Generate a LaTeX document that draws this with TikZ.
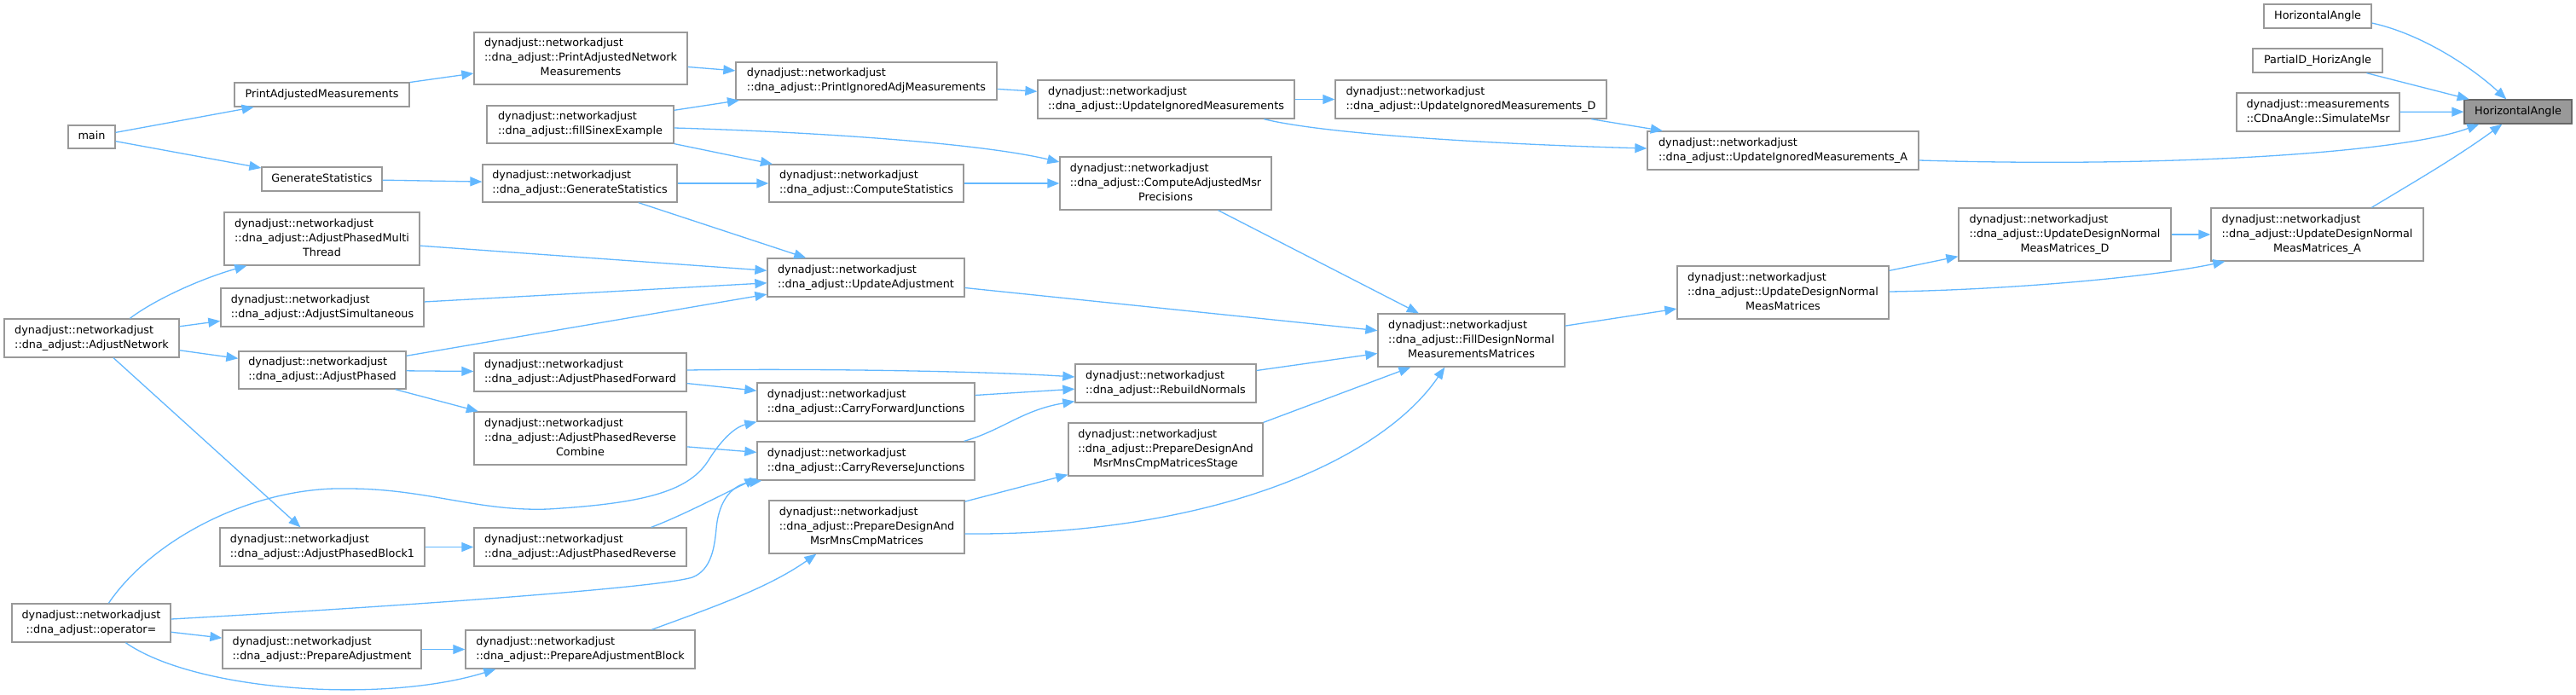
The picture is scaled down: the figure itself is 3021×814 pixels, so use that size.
\documentclass[tikz,border=0pt]{standalone}
\usepackage{fontspec}
\newfontfamily\dvs{DejaVu Sans}
\usetikzlibrary{arrows.meta,calc}
\definecolor{edgeblue}{HTML}{63B8FF}
\definecolor{boxgray}{HTML}{999999}
\definecolor{bordergray}{HTML}{666666}
\newcommand\lone[1]{\begin{tabular}{@{}c@{}}#1\end{tabular}}
\newcommand\ltwo[2]{\begin{tabular}{@{}l@{}}#1\\\multicolumn{1}{@{}c@{}}{#2}\end{tabular}}
\newcommand\lthree[3]{\begin{tabular}{@{}l@{}}#1\\#2\\\multicolumn{1}{@{}c@{}}{#3}\end{tabular}}
\newcommand\dnaN{dynadjust::networkadjust}
\newcommand\nd[6]{\node[fn,minimum width={(#4-#2)*1pt},minimum height={(#5-#3)*1pt}] (#1) at ({(#2+#4)/2},{-(#3+#5)/2}) {#6};}
\tikzset{
  fn/.style={draw=boxgray, line width=1.3pt, fill=white, inner sep=0pt, font=\dvs\fontsize{12.8}{17}\selectfont},
  conn/.style={draw=edgeblue, line width=1.3pt, -{Triangle[length=14pt,width=11pt]}},
}
\begin{document}
\begin{tikzpicture}[x=1pt,y=1pt]
\useasboundingbox (0,0) rectangle (3021,-814);
\fill[white] (0,0) rectangle (3021,-814);
% nodes
\nd{n_main}{80}{147}{135}{174}{\lone{main}}
\nd{n_pam}{275}{97}{480}{125}{\lone{PrintAdjustedMeasurements}}
\nd{n_panm}{556}{38}{806}{99}{\lthree{\dnaN}{::dna\_adjust::PrintAdjustedNetwork}{Measurements}}
\nd{n_sinex}{571}{124}{790}{168}{\ltwo{\dnaN}{::dna\_adjust::fillSinexExample}}
\nd{n_gs}{307}{196}{448}{224}{\lone{GenerateStatistics}}
\nd{n_dgs}{566}{193}{794}{237}{\ltwo{\dnaN}{::dna\_adjust::GenerateStatistics}}
\nd{n_apmt}{263}{249}{492}{311}{\lthree{\dnaN}{::dna\_adjust::AdjustPhasedMulti}{Thread}}
\nd{n_asim}{259}{338}{497}{383}{\ltwo{\dnaN}{::dna\_adjust::AdjustSimultaneous}}
\nd{n_anet}{5}{374}{210}{419}{\ltwo{\dnaN}{::dna\_adjust::AdjustNetwork}}
\nd{n_ap}{280}{412}{476}{456}{\ltwo{\dnaN}{::dna\_adjust::AdjustPhased}}
\nd{n_apf}{556}{414}{805}{459}{\ltwo{\dnaN}{::dna\_adjust::AdjustPhasedForward}}
\nd{n_aprc}{556}{483}{805}{545}{\lthree{\dnaN}{::dna\_adjust::AdjustPhasedReverse}{Combine}}
\nd{n_apb1}{258}{619}{498}{664}{\ltwo{\dnaN}{::dna\_adjust::AdjustPhasedBlock1}}
\nd{n_apr}{556}{619}{805}{664}{\ltwo{\dnaN}{::dna\_adjust::AdjustPhasedReverse}}
\nd{n_op}{14}{708}{200}{753}{\ltwo{\dnaN}{::dna\_adjust::operator=}}
\nd{n_pa}{261}{739}{494}{784}{\ltwo{\dnaN}{::dna\_adjust::PrepareAdjustment}}
\nd{n_pab}{546}{739}{815}{784}{\ltwo{\dnaN}{::dna\_adjust::PrepareAdjustmentBlock}}
\nd{n_piam}{863}{73}{1169}{117}{\ltwo{\dnaN}{::dna\_adjust::PrintIgnoredAdjMeasurements}}
\nd{n_uim}{1217}{94}{1518}{139}{\ltwo{\dnaN}{::dna\_adjust::UpdateIgnoredMeasurements}}
\nd{n_uimd}{1566}{94}{1884}{139}{\ltwo{\dnaN}{::dna\_adjust::UpdateIgnoredMeasurements\_D}}
\nd{n_cs}{902}{193}{1130}{237}{\ltwo{\dnaN}{::dna\_adjust::ComputeStatistics}}
\nd{n_camp}{1243}{184}{1491}{246}{\lthree{\dnaN}{::dna\_adjust::ComputeAdjustedMsr}{Precisions}}
\nd{n_ua}{900}{303}{1131}{348}{\ltwo{\dnaN}{::dna\_adjust::UpdateAdjustment}}
\nd{n_fdn}{1616}{368}{1835}{430}{\lthree{\dnaN}{::dna\_adjust::FillDesignNormal}{MeasurementsMatrices}}
\nd{n_rn}{1261}{427}{1473}{472}{\ltwo{\dnaN}{::dna\_adjust::RebuildNormals}}
\nd{n_cfj}{888}{449}{1143}{494}{\ltwo{\dnaN}{::dna\_adjust::CarryForwardJunctions}}
\nd{n_crj}{888}{518}{1143}{563}{\ltwo{\dnaN}{::dna\_adjust::CarryReverseJunctions}}
\nd{n_pdss}{1253}{496}{1481}{558}{\lthree{\dnaN}{::dna\_adjust::PrepareDesignAnd}{MsrMnsCmpMatricesStage}}
\nd{n_pds}{902}{587}{1131}{649}{\lthree{\dnaN}{::dna\_adjust::PrepareDesignAnd}{MsrMnsCmpMatrices}}
\nd{n_uima}{1932}{154}{2250}{199}{\ltwo{\dnaN}{::dna\_adjust::UpdateIgnoredMeasurements\_A}}
\nd{n_udnd}{2297}{244}{2546}{306}{\lthree{\dnaN}{::dna\_adjust::UpdateDesignNormal}{MeasMatrices\_D}}
\nd{n_udn}{1967}{312}{2215}{374}{\lthree{\dnaN}{::dna\_adjust::UpdateDesignNormal}{MeasMatrices}}
\nd{n_ha1}{2655}{5}{2781}{33}{\lone{HorizontalAngle}}
\nd{n_pdha}{2642}{57}{2794}{85}{\lone{PartialD\_HorizAngle}}
\nd{n_sim}{2623}{109}{2814}{154}{\ltwo{dynadjust::measurements}{::CDnaAngle::SimulateMsr}}
\nd{n_udna}{2593}{244}{2842}{306}{\lthree{\dnaN}{::dna\_adjust::UpdateDesignNormal}{MeasMatrices\_A}}
\node[fn,fill=boxgray,draw=bordergray,minimum width=126pt,minimum height=28pt] (n_ha) at (2953,-131) {\lone{HorizontalAngle}};
% straight connectors
\draw[conn] (n_main) -- (n_pam);
\draw[conn] (n_main) -- (n_gs);
\draw[conn] (n_pam) -- (n_panm);
\draw[conn] (n_gs) -- (n_dgs);
\draw[conn] (n_panm) -- (n_piam);
\draw[conn] (n_sinex) -- (n_piam);
\draw[conn] (n_sinex) -- (n_cs);
\draw[conn] (n_dgs) -- (n_cs);
\draw[conn] (n_dgs) -- (n_ua);
\draw[conn] (n_cs) -- (n_camp);
\draw[conn] (n_apmt) -- (n_ua);
\draw[conn] (n_asim) -- (n_ua);
\draw[conn] (n_ap) -- (n_ua);
\draw[conn] (n_piam) -- (n_uim);
\draw[conn] (n_uim) -- (n_uimd);
\draw[conn] (n_uimd) -- (n_uima);
\draw[conn] (n_camp) -- (n_fdn);
\draw[conn] (n_ua) -- (n_fdn);
\draw[conn] (n_rn) -- (n_fdn);
\draw[conn] (n_fdn) -- (n_udn);
\draw[conn] (n_udn) -- (n_udnd);
\draw[conn] (n_udnd) -- (n_udna);
\draw[conn] (n_pdha) -- (n_ha);
\draw[conn] (n_sim) -- (n_ha);
\draw[conn] (n_anet) -- (n_asim);
\draw[conn] (n_anet) -- (n_ap);
\draw[conn] (n_anet) -- (n_apb1);
\draw[conn] (n_ap) -- (n_apf);
\draw[conn] (n_ap) -- (n_aprc);
\draw[conn] (n_apb1) -- (n_apr);
\draw[conn] (n_op) -- (n_pa);
\draw[conn] (n_pa) -- (n_pab);
\draw[conn] (n_pds) -- (n_pdss);
\draw[conn] (n_apf) -- (n_cfj);
\draw[conn] (n_cfj) -- (n_rn);
\draw[conn] (n_aprc) -- (n_crj);
\draw[conn] (n_pdss.north east) -- ($(n_fdn.south west)+(39,0)$);
% curved connectors
\draw[conn] ($(n_sinex.east)+(0,-4)$) .. controls +(170,-5) and +(-93,22) .. ($(n_camp.west)+(0,25)$);
\draw[conn] ($(n_uim.south west)+(266,0)$) .. controls +(77,-19) and +(-152,4) .. ($(n_uima.west)+(0,2.5)$);
\draw[conn] ($(n_uima.east)+(0,-11.5)$) .. controls +(300,-9) and +(-88,-33) .. ($(n_ha.south west)+(18,0)$);
\draw[conn] ($(n_pds.east)+(0,-8)$) .. controls +(289,-2) and +(-75,-110) .. ($(n_fdn.south west)+(79,0)$);
\draw[conn] ($(n_udn.east)+(0,1)$) .. controls +(135,2) and +(-90,-19) .. ($(n_udna.south west)+(17,0)$);
\draw[conn] ($(n_udna.north west)+(189,0)$) .. controls +(48,29) and +(-55,-40) .. ($(n_ha.south west)+(45,0)$);
\draw[conn] ($(n_ha1.east)+(0,-8)$) .. controls +(59,-13) and +(-40,37) .. ($(n_ha.north west)+(50,0)$);
\draw[conn] ($(n_anet.north west)+(148,0)$) .. controls +(32,24) and +(-50,-14) .. ($(n_apmt.south west)+(27,0)$);
\draw[conn] ($(n_op.south west)+(134,0)$) .. controls +(82,-57) and +(-132,-41) .. ($(n_pab.south west)+(36,0)$);
\draw[conn] ($(n_pab.north west)+(219,0)$) .. controls +(65,24) and +(-58,-41) .. ($(n_pds.south west)+(56,0)$);
\draw[conn] ($(n_apf.east)+(0,2.5)$) .. controls +(145,2) and +(-111,7) .. ($(n_rn.west)+(0,7.5)$);
\draw[conn] ($(n_crj.north east)+(-13,0)$) .. controls +(45,13) and +(-61,-10) .. ($(n_rn.south west)+(0,2)$);
\draw[conn] ($(n_apr.north east)+(-42,0)$) .. controls +(37,14) and +(-38,-18) .. ($(n_crj.south west)+(0,3)$);
\draw[conn] ($(n_op.north west)+(114,0)$) .. controls (180,-630) and (300,-570) .. (408,-573)
  .. controls (500,-573) and (560,-600) .. (643,-597)
  .. controls (760,-590) and (810,-575) .. (832,-538)
  .. controls (850,-510) and (865,-500) .. (n_cfj.south west);
\draw[conn] ($(n_op.east)+(0,4.5)$) .. controls (450,-712) and (770,-690) .. (812,-677)
  .. controls (835,-668) and (838,-640) .. (840,-620)
  .. controls (843,-585) and (860,-568) .. ($(n_crj.south west)+(6,0)$);
\end{tikzpicture}
\end{document}
